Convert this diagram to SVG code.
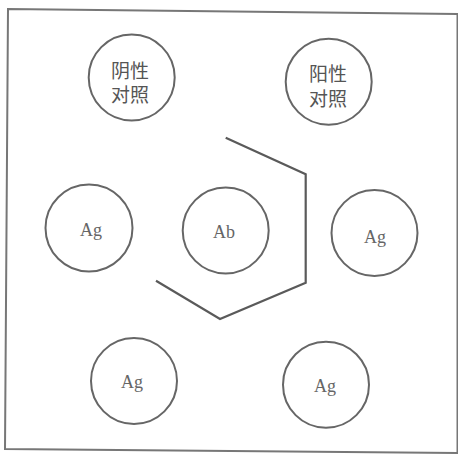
<svg xmlns="http://www.w3.org/2000/svg" width="458" height="454" viewBox="0 0 458 454">
<style>
.frame{fill:none;stroke:#777;stroke-width:2}
.well{fill:none;stroke:#666;stroke-width:2}
.hex{fill:none;stroke:#5a5a5a;stroke-width:2.2;stroke-linejoin:miter}
.cn{font-family:"Noto Sans CJK SC",sans-serif;font-size:19px;fill:#555;text-anchor:middle}
.lat{font-family:"Liberation Serif",serif;font-size:18px;fill:#666;text-anchor:middle}
</style>
<rect width="458" height="454" fill="#fff"/>
<polygon class="frame" points="8,9 457.5,14 457.5,453 5,449"/>
<g id="connectors">
<polyline class="hex" points="225.7,137.7 305.7,174.3 305.7,282.7 220,319 156,280.7"/>
</g>
<g id="neg-control">
<circle class="well" cx="131.7" cy="77.5" r="43"/>
<text class="cn" x="130" y="77.5">阴性</text>
<text class="cn" x="130" y="102">对照</text>
</g>
<g id="pos-control">
<circle class="well" cx="328.7" cy="81.7" r="43"/>
<text class="cn" x="328" y="81">阳性</text>
<text class="cn" x="328" y="105.5">对照</text>
</g>
<g id="ag-left">
<circle class="well" cx="89" cy="228" r="43.5"/>
<text class="lat" x="91" y="236">Ag</text>
</g>
<g id="ab-center">
<circle class="well" cx="225.7" cy="230.5" r="43"/>
<text class="lat" x="224" y="238">Ab</text>
</g>
<g id="ag-right">
<circle class="well" cx="374.5" cy="233" r="43"/>
<text class="lat" x="375" y="242.5">Ag</text>
</g>
<g id="ag-bottom-left">
<circle class="well" cx="134" cy="381" r="43"/>
<text class="lat" x="132" y="387.5">Ag</text>
</g>
<g id="ag-bottom-right">
<circle class="well" cx="326" cy="384.7" r="43"/>
<text class="lat" x="325" y="391.5">Ag</text>
</g>
</svg>
